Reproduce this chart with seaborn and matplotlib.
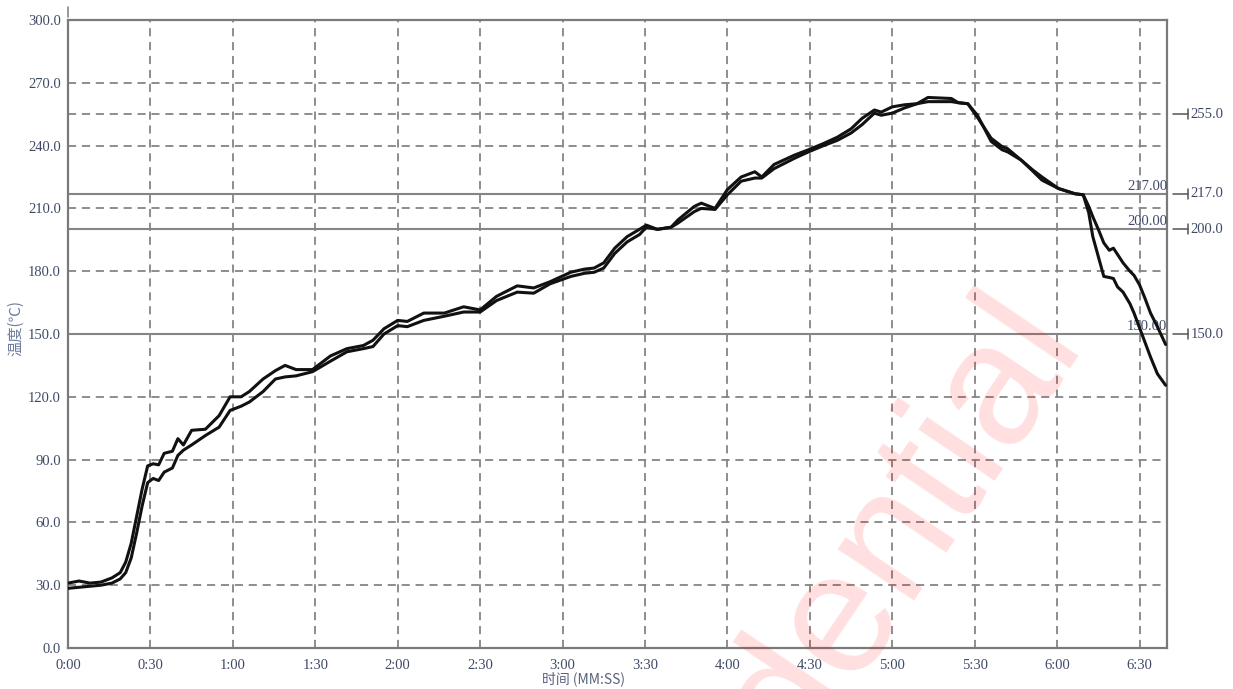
import matplotlib
matplotlib.use('Agg')
import matplotlib.pyplot as plt
import seaborn as sns
import pandas as pd

# reflow profile, time in seconds, temperature in deg C
time_s = [0, 4, 8, 12, 16, 19, 21, 23, 25, 27,
          29, 31, 33, 35, 38, 40, 42, 45, 50, 55,
          59, 63, 66, 71, 75.5, 79, 83, 89, 95.5, 101.5,
          107.5, 111, 115, 120, 123.5, 129.5, 137, 144, 150, 156,
          163.5, 169.5, 175.5, 183, 188, 191.5, 195, 199, 203.5, 208,
          210.5, 214.5, 219.5, 222, 228, 230.5, 235.5, 240, 245, 250,
          252.5, 257, 264.5, 269.5, 275, 280, 285, 289, 293.5, 296,
          300, 304.5, 309, 313, 321.5, 324, 327.5, 331, 336, 340,
          342, 347, 351, 354.5, 360.5, 366.5, 369.5, 371.5, 373, 375,
          377, 379, 380.5, 382, 384, 386.5, 388, 390, 392, 394,
          396.5, 399.5]

probe_1 = [31.0, 32.0, 31.0, 31.5, 33.5, 36.0, 41.0, 50.0, 63.0, 76.0,
           87.0, 88.0, 87.5, 93.0, 94.0, 100.0, 97.0, 104.0, 104.5, 111.0,
           120.0, 120.0, 122.5, 128.5, 132.5, 135.0, 133.0, 133.0, 139.5, 143.0,
           144.5, 147.0, 152.5, 156.5, 156.0, 160.0, 160.0, 163.0, 161.5, 168.0,
           173.0, 172.0, 175.0, 179.5, 181.0, 181.5, 184.0, 191.0, 196.5, 200.0,
           202.0, 200.0, 201.0, 204.5, 211.0, 212.5, 210.0, 219.0, 225.0, 227.5,
           225.0, 231.0, 235.5, 238.0, 241.0, 244.0, 248.0, 253.0, 257.0, 256.0,
           258.5, 259.5, 260.0, 263.0, 262.5, 260.5, 260.0, 253.5, 243.5, 239.5,
           238.5, 233.0, 228.5, 225.0, 219.5, 217.0, 216.5, 208.0, 196.5, 187.0,
           177.5, 177.0, 176.5, 172.5, 170.0, 164.5, 160.0, 153.0, 146.0, 139.0,
           131.0, 125.5]

probe_2 = [28.5, 29.0, 29.5, 30.0, 31.0, 33.0, 36.0, 43.0, 55.0, 68.0,
           79.0, 81.0, 80.0, 84.0, 86.0, 92.0, 94.5, 97.0, 101.5, 105.5,
           113.5, 115.5, 117.5, 122.5, 128.5, 129.5, 130.0, 132.0, 137.0, 141.5,
           143.0, 144.0, 150.0, 154.0, 153.5, 156.5, 158.5, 160.5, 160.5, 166.0,
           170.0, 169.5, 174.0, 177.5, 179.0, 179.5, 181.5, 188.5, 194.0, 197.5,
           201.0, 200.0, 201.0, 203.0, 208.5, 210.0, 209.5, 216.5, 223.0, 224.5,
           224.5, 229.0, 234.0, 237.0, 240.0, 242.5, 246.0, 250.0, 255.5, 254.5,
           255.5, 258.0, 260.0, 261.0, 261.0, 260.5, 260.0, 254.5, 242.0, 238.0,
           237.0, 233.0, 228.0, 223.5, 219.5, 217.0, 216.5, 211.0, 206.0, 200.0,
           193.5, 190.0, 191.0, 188.0, 184.0, 180.0, 178.0, 173.5, 167.0, 160.0,
           153.5, 145.0]

x_ticks = [0, 30, 60, 90, 120, 150, 180, 210, 240, 270, 300, 330, 360, 390]
x_tick_labels = ['0:00', '0:30', '1:00', '1:30', '2:00', '2:30', '3:00',
                 '3:30', '4:00', '4:30', '5:00', '5:30', '6:00', '6:30']
y_ticks = [0, 30, 60, 90, 120, 150, 180, 210, 240, 270, 300]
y_tick_labels = ['0.0', '30.0', '60.0', '90.0', '120.0', '150.0', '180.0',
                 '210.0', '240.0', '270.0', '300.0']
dashed_y = [30, 60, 90, 120, 180, 210, 240, 255, 270]
limit_lines = [217, 200, 150]
limit_labels = ['217.00', '200.00', '150.00']
side_marks = [255, 217, 200, 150]
side_labels = ['255.0', '217.0', '200.0', '150.0']

df = pd.DataFrame({
    'time': time_s + time_s,
    'temp': probe_1 + probe_2,
    'probe': ['1'] * len(time_s) + ['2'] * len(time_s),
})

sns.set_style('white')
plt.rcParams['font.family'] = ['Liberation Serif', 'Noto Sans CJK SC', 'DejaVu Sans']

tick_col = '#3f4a66'
grid_col = '#858585'

fig = plt.figure(figsize=(12.33, 6.89), dpi=100)
ax = fig.add_axes([68 / 1233, 41 / 689, 1099 / 1233, 628 / 689])

for v in dashed_y:
    ax.axhline(v, color=grid_col, lw=1.3, ls=(0, (4.5, 3.2)), zorder=1)
for v in x_ticks[1:]:
    ax.axvline(v, color=grid_col, lw=1.3, ls=(0, (4.5, 3.2)), zorder=1)
for v, lab in zip(limit_lines, limit_labels):
    ax.axhline(v, color=grid_col, lw=1.5, zorder=1)
    ax.text(400, v + 0.5, lab, ha='right', va='bottom', fontsize=10.5,
            color=tick_col)

sns.lineplot(data=df, x='time', y='temp', hue='probe', palette=['#111111', '#111111'],
             legend=False, lw=2.2, estimator=None, ax=ax, zorder=3)

ax.set_xlim(0, 400)
ax.set_ylim(0, 300)
ax.set_xticks(x_ticks)
ax.set_xticklabels(x_tick_labels)
ax.set_yticks(y_ticks)
ax.set_yticklabels(y_tick_labels)
ax.tick_params(axis='x', direction='out', length=3, color='#666666',
               labelsize=10.5, labelcolor=tick_col, pad=5)
ax.tick_params(axis='y', direction='in', length=4, color='#666666',
               labelsize=10.5, labelcolor=tick_col, pad=5)
ax.set_xlabel('')
ax.set_ylabel('')
for s in ax.spines.values():
    s.set_color('#7a7a7a')
    s.set_linewidth(1.6)

# small marks outside the right edge
trans = ax.get_yaxis_transform()
for v, lab in zip(side_marks, side_labels):
    ax.plot([1.0055, 1.0191], [v, v], transform=trans, color='#555555',
            lw=1.1, clip_on=False)
    ax.plot([1.0191, 1.0191], [v - 2.4, v + 2.4], transform=trans,
            color='#555555', lw=1.1, clip_on=False)
    ax.text(1.0215, v, lab, transform=trans, ha='left', va='center',
            fontsize=10.5, color=tick_col)

# little stub above the top-left corner
ax.plot([0, 0], [1.005, 1.02], transform=ax.transAxes, color='#7a7a7a',
        lw=1.1, clip_on=False)

fig.text(16 / 1233, 1 - 328 / 689, '温度(℃)', rotation=90, ha='center',
         va='center', fontsize=11, color='#6e7c9c',
         family=['Noto Sans CJK SC', 'DejaVu Sans'])
fig.text(583 / 1233, 1 - 679 / 689, '时间 (MM:SS)', ha='center', va='center',
         fontsize=10, color='#58627e',
         family=['Noto Sans CJK SC', 'DejaVu Sans'])

# watermark
fig.text(1082 / 1233, 1 - 338 / 689, 'Confidential', rotation=56,
         rotation_mode='anchor', ha='right', va='baseline', fontsize=125,
         color='red', alpha=0.13, family='Liberation Sans', zorder=10)

fig.savefig('out.png', dpi=100)
